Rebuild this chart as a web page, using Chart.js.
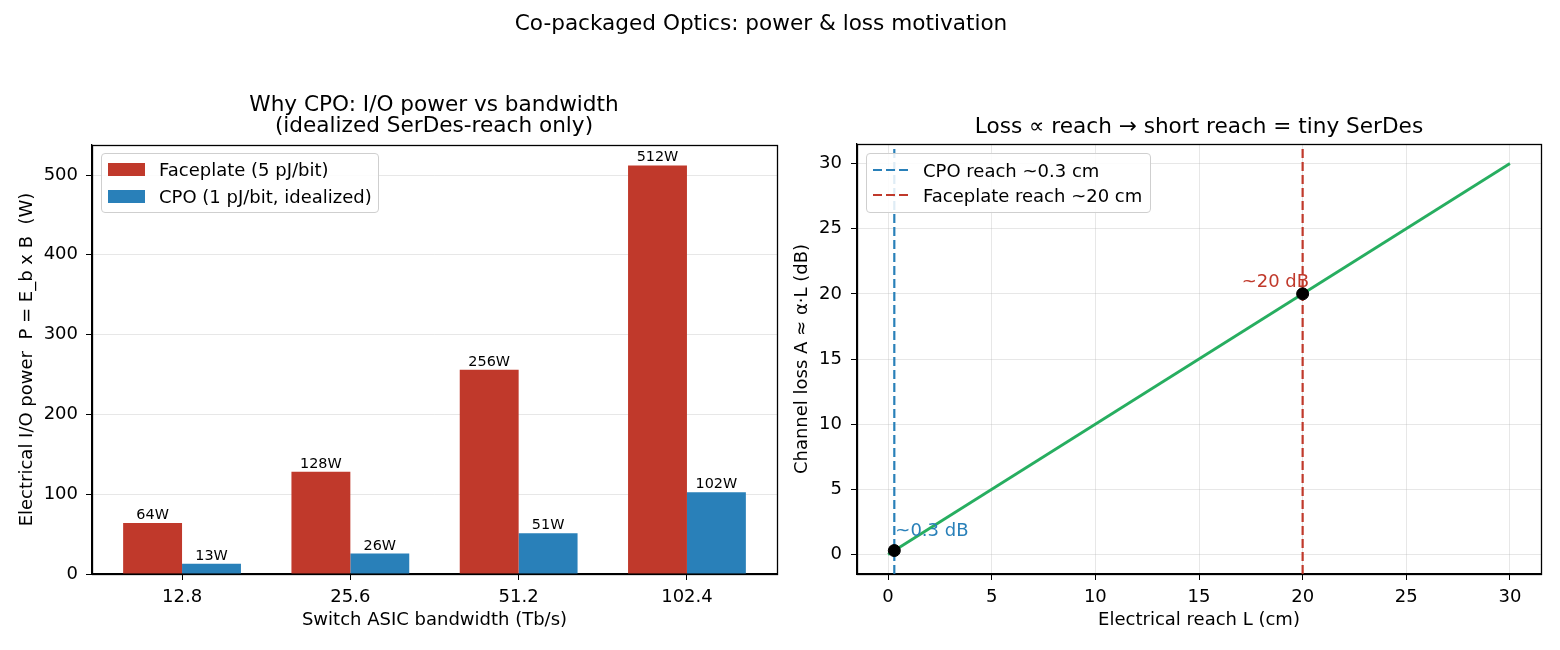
<!DOCTYPE html>
<html>
<head>
<meta charset="utf-8">
<script src="https://cdn.jsdelivr.net/npm/chart.js@4.4.0/dist/chart.umd.min.js"></script>
<style>
  body { margin: 0; width: 1560px; height: 650px; background: #fff; position: relative; overflow: hidden; font-family: "DejaVu Sans", sans-serif; color: #000; }
  .title { position: absolute; font-size: 21.6px; line-height: 21.6px; white-space: nowrap; text-align: center; transform: translate(-50%, -50%); }
  .legend { position: absolute; background: rgba(255,255,255,0.85); border: 1px solid #cfcfcf; border-radius: 4px; font-size: 18px; box-sizing: border-box; }
  .legend .txt { position: absolute; transform: translateY(-50%); white-space: nowrap; }
  #leftWrap { position: absolute; left: 0; top: 0; }
  #rightWrap { position: absolute; left: 780px; top: 0; }
</style>
</head>
<body>
<div id="leftWrap"><canvas id="powerChart" width="800" height="650"></canvas></div>
<div id="rightWrap"><canvas id="lossChart" width="780" height="650"></canvas></div>

<div class="title" style="left:761px;top:23px">Co-packaged Optics: power &amp; loss motivation</div>
<div class="title" style="left:434px;top:104px">Why CPO: I/O power vs bandwidth</div>
<div class="title" style="left:434px;top:125px">(idealized SerDes-reach only)</div>
<div class="title" style="left:1199px;top:126px">Loss ∝ reach → short reach = tiny SerDes</div>

<div class="legend" id="leftLegend" style="left:101px;top:153px;width:278px;height:60px"></div>
<div class="legend" id="rightLegend" style="left:866px;top:153px;width:285px;height:60px"></div>

<script>
// left panel data
const bandwidthLabels = ["12.8", "25.6", "51.2", "102.4"];
const faceplatePower = [64, 128, 256, 512];
const cpoPower = [12.8, 25.6, 51.2, 102.4];
const powerTicks = [0, 100, 200, 300, 400, 500];

// right panel data
const reachCm = [0, 30];
const lossDb = [0, 30];
const markerReach = [0.3, 20];
const markerLoss = [0.3, 20];
const cpoReach = 0.3;
const faceplateReach = 20;
const reachTicks = [0, 5, 10, 15, 20, 25, 30];
const lossTicks = [0, 5, 10, 15, 20, 25, 30];
const annotText = ["~0.3 dB", "~20 dB"];

const RED = "#c0392b";
const BLUE = "#2980b9";
const GREEN = "#27ae60";
const GRID = "rgba(176,176,176,0.3)";

Chart.defaults.font.family = "DejaVu Sans";
Chart.defaults.font.size = 18;
Chart.defaults.color = "#000";

// full box around the plot area, like matplotlib spines
const frameBox = {
  id: "frameBox",
  afterDraw(chart) {
    const a = chart.chartArea;
    const ctx = chart.ctx;
    ctx.save();
    ctx.strokeStyle = "#000";
    ctx.lineWidth = 1.3;
    ctx.strokeRect(Math.round(a.left) + 0.5, Math.round(a.top) + 0.5,
      Math.round(a.right - a.left), Math.round(a.bottom - a.top));
    ctx.restore();
  }
};

// value labels on top of the bars
const barLabels = {
  id: "barLabels",
  afterDatasetsDraw(chart) {
    const ctx = chart.ctx;
    ctx.save();
    ctx.font = "14.4px 'DejaVu Sans'";
    ctx.fillStyle = "#000";
    ctx.textAlign = "center";
    ctx.textBaseline = "alphabetic";
    chart.data.datasets.forEach((ds, i) => {
      chart.getDatasetMeta(i).data.forEach((bar, j) => {
        ctx.fillText(Math.round(ds.data[j].y) + "W", bar.x, bar.y - 4);
      });
    });
    ctx.restore();
  }
};

// text next to the two markers
const pointNotes = {
  id: "pointNotes",
  afterDatasetsDraw(chart) {
    const ctx = chart.ctx;
    const xs = chart.scales.x, ys = chart.scales.y;
    ctx.save();
    ctx.font = "18px 'DejaVu Sans'";
    ctx.textBaseline = "alphabetic";
    ctx.textAlign = "left";
    ctx.fillStyle = BLUE;
    ctx.fillText(annotText[0], xs.getPixelForValue(markerReach[0]) + 1, ys.getPixelForValue(markerLoss[0]) - 15);
    ctx.fillStyle = RED;
    ctx.fillText(annotText[1], xs.getPixelForValue(markerReach[1]) - 61, ys.getPixelForValue(markerLoss[1]) - 7);
    ctx.restore();
  }
};

document.addEventListener("DOMContentLoaded", function () {
  // Power vs bandwidth
  const powerCtx = document.getElementById("powerChart");
  new Chart(powerCtx, {
    type: "bar",
    data: {
      datasets: [
        {
          label: "Faceplate (5 pJ/bit)",
          data: faceplatePower.map((v, i) => ({ x: i, y: v })),
          backgroundColor: RED,
          borderWidth: 0,
          barPercentage: 1,
          categoryPercentage: 0.7
        },
        {
          label: "CPO (1 pJ/bit, idealized)",
          data: cpoPower.map((v, i) => ({ x: i, y: v })),
          backgroundColor: BLUE,
          borderWidth: 0,
          barPercentage: 1,
          categoryPercentage: 0.7
        }
      ]
    },
    options: {
      responsive: false,
      animation: false,
      layout: { padding: { top: 145, right: 23, left: 0, bottom: 0 } },
      plugins: { legend: { display: false }, tooltip: { enabled: false } },
      scales: {
        x: {
          type: "linear",
          min: -0.535,
          max: 3.535,
          offset: false,
          afterBuildTicks: (s) => { s.ticks = bandwidthLabels.map((_, i) => ({ value: i })); },
          afterFit: (s) => { s.height = 76; },
          ticks: { callback: (v) => bandwidthLabels[v], maxRotation: 0, autoSkip: false, padding: 7 },
          grid: { offset: false, drawOnChartArea: false, tickColor: "#000", tickLength: 6 },
          border: { color: "#000", width: 1.3 },
          title: { display: true, text: "Switch ASIC bandwidth (Tb/s)", padding: { top: 0, bottom: 19 } }
        },
        y: {
          min: 0,
          max: 537.6,
          z: 1,
          afterBuildTicks: (s) => { s.ticks = powerTicks.map((v) => ({ value: v })); },
          afterFit: (s) => { s.width = 92; },
          ticks: { padding: 8 },
          grid: { color: GRID, tickColor: "#000", tickLength: 6 },
          border: { color: "#000", width: 1.3 },
          title: { display: true, text: "Electrical I/O power  P = E_b x B  (W)", padding: { top: 17, bottom: 0 } }
        }
      }
    },
    plugins: [barLabels, frameBox]
  });

  // Loss vs reach
  const lossCtx = document.getElementById("lossChart");
  new Chart(lossCtx, {
    type: "line",
    data: {
      datasets: [
        {
          label: "markers",
          data: markerReach.map((x, i) => ({ x: x, y: markerLoss[i] })),
          showLine: false,
          pointRadius: 6,
          pointBackgroundColor: "#000",
          pointBorderColor: "#000"
        },
        {
          label: "CPO reach ~0.3 cm",
          data: [{ x: cpoReach, y: -1.5 }, { x: cpoReach, y: 31.5 }],
          borderColor: BLUE,
          borderWidth: 2.2,
          borderDash: [9, 4],
          pointRadius: 0
        },
        {
          label: "Faceplate reach ~20 cm",
          data: [{ x: faceplateReach, y: -1.5 }, { x: faceplateReach, y: 31.5 }],
          borderColor: RED,
          borderWidth: 2.2,
          borderDash: [9, 4],
          pointRadius: 0
        },
        {
          label: "loss",
          data: reachCm.map((x, i) => ({ x: x, y: lossDb[i] })),
          borderColor: GREEN,
          borderWidth: 2.8,
          pointRadius: 0
        }
      ]
    },
    options: {
      responsive: false,
      animation: false,
      layout: { padding: { top: 144, right: 19, left: 0, bottom: 0 } },
      plugins: { legend: { display: false }, tooltip: { enabled: false } },
      scales: {
        x: {
          type: "linear",
          min: -1.5,
          max: 31.5,
          afterBuildTicks: (s) => { s.ticks = reachTicks.map((v) => ({ value: v })); },
          afterFit: (s) => { s.height = 76; },
          ticks: { maxRotation: 0, padding: 7 },
          grid: { color: GRID, tickColor: "#000", tickLength: 6 },
          border: { color: "#000", width: 1.3 },
          title: { display: true, text: "Electrical reach L (cm)", padding: { top: 0, bottom: 19 } }
        },
        y: {
          min: -1.5,
          max: 31.5,
          afterBuildTicks: (s) => { s.ticks = lossTicks.map((v) => ({ value: v })); },
          afterFit: (s) => { s.width = 77; },
          ticks: { padding: 9 },
          grid: { color: GRID, tickColor: "#000", tickLength: 6 },
          border: { color: "#000", width: 1.3 },
          title: { display: true, text: "Channel loss A ≈ α·L (dB)", padding: { top: 12, bottom: 0 } }
        }
      }
    },
    plugins: [pointNotes, frameBox]
  });

  // legends inside the axes, upper left
  const leftLegend = document.getElementById("leftLegend");
  [["Faceplate (5 pJ/bit)", RED, 15], ["CPO (1 pJ/bit, idealized)", BLUE, 42]].forEach(([text, color, cy]) => {
    leftLegend.insertAdjacentHTML("beforeend",
      '<div style="position:absolute;left:6px;top:' + (cy - 6.5) + 'px;width:37px;height:13px;background:' + color + '"></div>' +
      '<div class="txt" style="left:57px;top:' + cy + 'px">' + text + '</div>');
  });
  const rightLegend = document.getElementById("rightLegend");
  [["CPO reach ~0.3 cm", BLUE, 16], ["Faceplate reach ~20 cm", RED, 41]].forEach(([text, color, cy]) => {
    rightLegend.insertAdjacentHTML("beforeend",
      '<svg style="position:absolute;left:6px;top:' + (cy - 2) + 'px" width="38" height="4"><line x1="0" y1="2" x2="38" y2="2" stroke="' + color + '" stroke-width="2.2" stroke-dasharray="9 4"/></svg>' +
      '<div class="txt" style="left:56px;top:' + cy + 'px">' + text + '</div>');
  });
});
</script>
</body>
</html>
